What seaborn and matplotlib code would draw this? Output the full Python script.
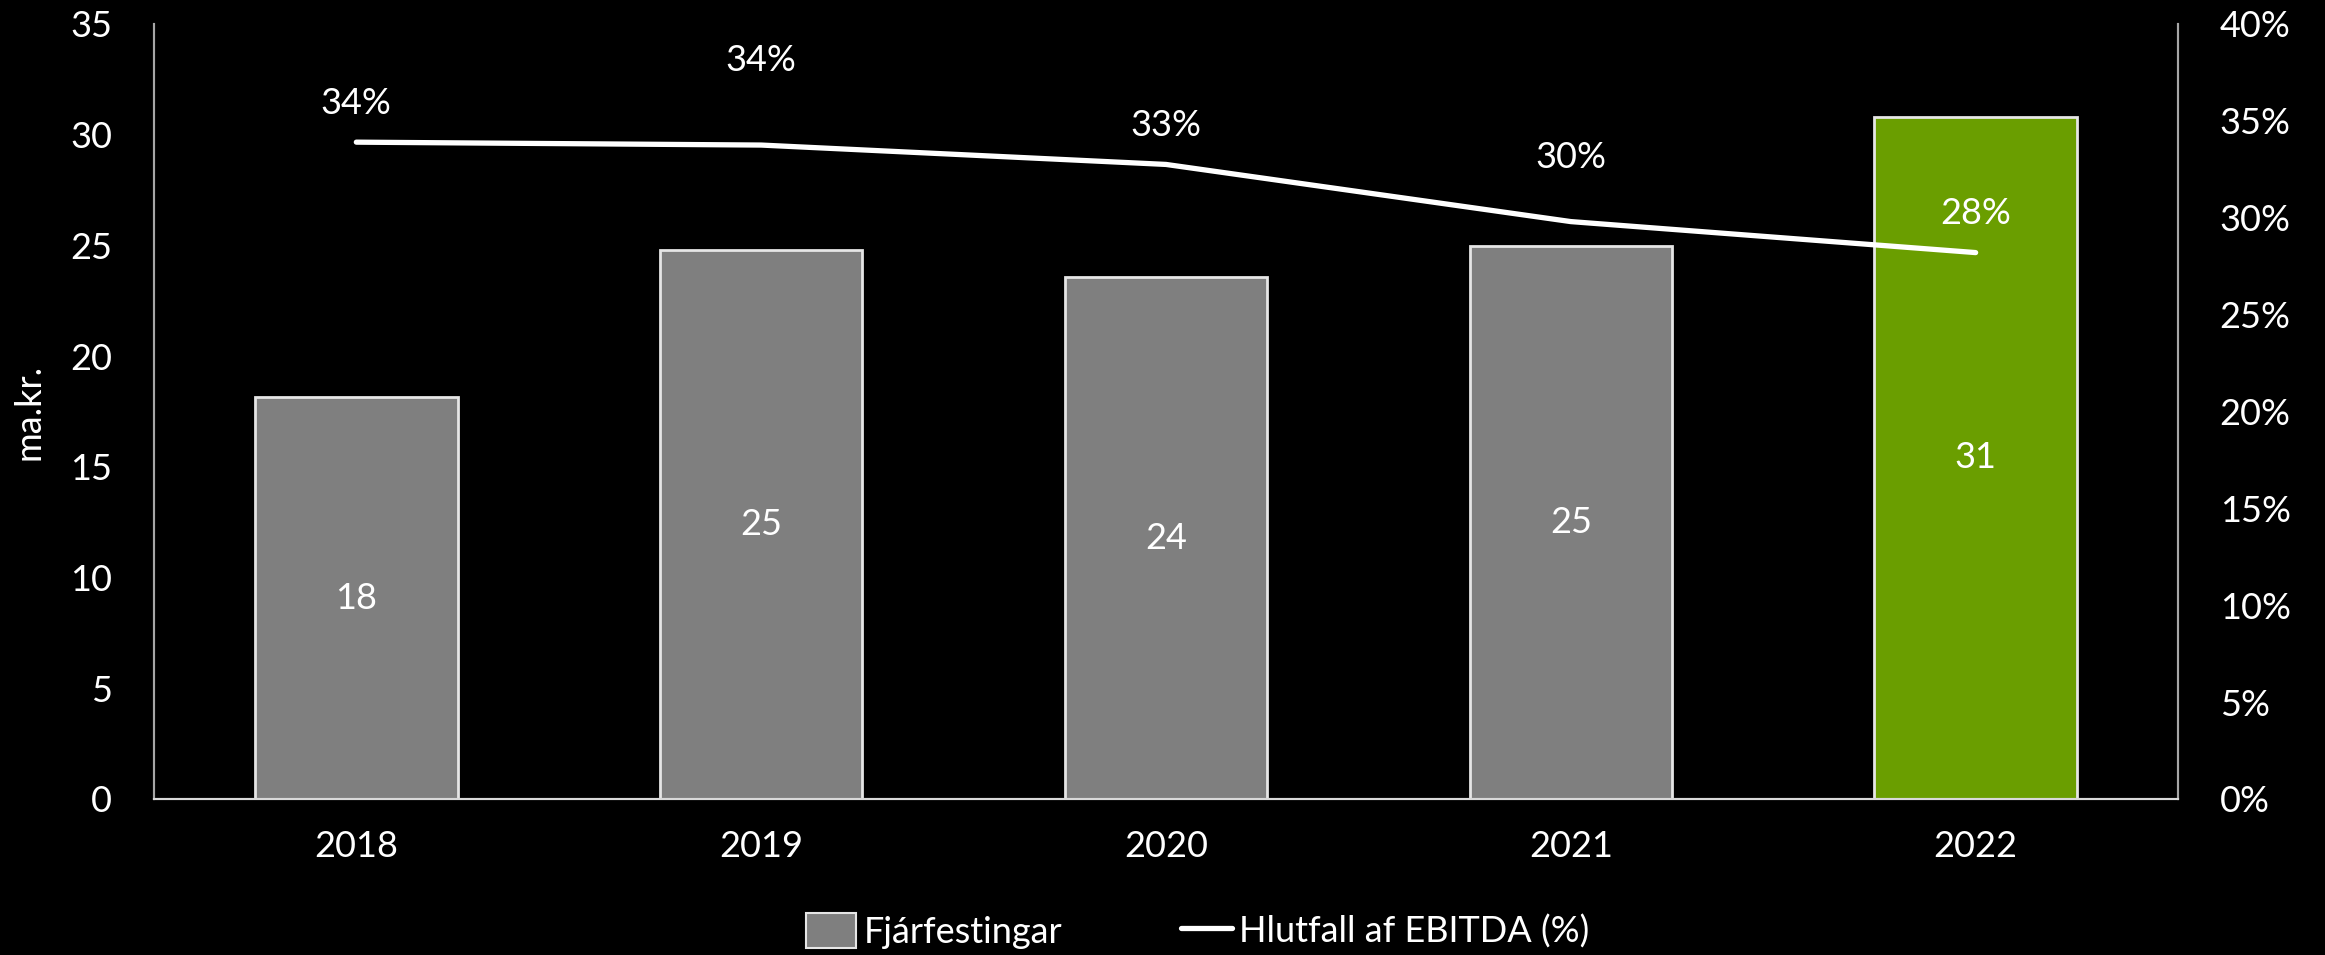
import pandas as pd
import seaborn as sns
import matplotlib.pyplot as plt
from matplotlib.patches import Patch
from matplotlib.lines import Line2D

# values
years = ["2018", "2019", "2020", "2021", "2022"]
investments = [18.15, 24.77, 23.56, 24.97, 30.82]   # ma.kr.
ebitda_share = [33.9, 33.75, 32.75, 29.8, 28.2]      # %
bar_labels = ["18", "25", "24", "25", "31"]
pct_labels = ["34%", "34%", "33%", "30%", "28%"]
bar_colors = ["#7f7f7f", "#7f7f7f", "#7f7f7f", "#7f7f7f", "#6a9e00"]

df = pd.DataFrame({"Ár": years, "Fjárfestingar": investments, "Hlutfall": ebitda_share})

sns.set_style("dark")
plt.rcParams["font.family"] = ["Lato", "DejaVu Sans"]
plt.rcParams["text.color"] = "white"

fig = plt.figure(figsize=(23.25, 9.55), dpi=100, facecolor="black")
ax = fig.add_axes([0.0662, 0.1634, 0.8706, 0.8115])
ax.set_facecolor("black")

sns.barplot(data=df, x="Ár", y="Fjárfestingar", hue="Ár", palette=bar_colors,
            saturation=1, width=0.5, edgecolor="#e6e6e6", linewidth=2,
            legend=False, ax=ax)
for container, lab in zip(ax.containers, bar_labels):
    ax.bar_label(container, labels=[lab], label_type="center", color="white", fontsize=26)

ax.set_ylim(0, 35)
ax.set_yticks(range(0, 36, 5))
ax.set_xlabel("")
ax.set_ylabel("ma.kr.", color="white", fontsize=26, labelpad=18)
ax.tick_params(axis="both", colors="white", labelsize=26, length=0)
ax.tick_params(axis="y", pad=30)
ax.tick_params(axis="x", pad=22)
ax.grid(False)

ax2 = ax.twinx()
sns.lineplot(data=df, x="Ár", y="Hlutfall", color="white", linewidth=3.8,
             sort=False, ax=ax2)
ax2.set_ylim(0, 40)
ax2.set_yticks(range(0, 41, 5))
ax2.set_yticklabels([f"{t}%" for t in range(0, 41, 5)])
ax2.set_ylabel("")
ax2.tick_params(axis="y", colors="white", labelsize=26, length=0, pad=30)
ax2.grid(False)
ax.set_xlim(-0.5, len(years) - 0.5)

# labels above the line points
offsets = [28, 61, 28, 46, 28]
for i, (v, lab, off) in enumerate(zip(ebitda_share, pct_labels, offsets)):
    ax2.annotate(lab, (i, v), xytext=(0, off), textcoords="offset points",
                 ha="center", va="center", color="white", fontsize=26)

for a in (ax, ax2):
    a.spines["top"].set_visible(False)
    a.spines["left"].set_color("#a6a6a6")
    a.spines["right"].set_color("#a6a6a6")
    a.spines["bottom"].set_color("#d9d9d9")
    for s in ("left", "right", "bottom"):
        a.spines[s].set_linewidth(1.5)
        a.spines[s].set_visible(True)

handles = [Patch(facecolor="#7f7f7f", edgecolor="#e6e6e6", linewidth=1.5),
           Line2D([0], [0], color="white", linewidth=3.8)]
fig.legend(handles, ["Fjárfestingar", "Hlutfall af EBITDA (%)"],
           loc="center", bbox_to_anchor=(0.515, 0.025), ncol=2, frameon=False,
           fontsize=26, labelcolor="white", handlelength=1.4, handleheight=1.1,
           handletextpad=0.2, columnspacing=3.3)

fig.savefig("out.png", dpi=100, facecolor="black")
